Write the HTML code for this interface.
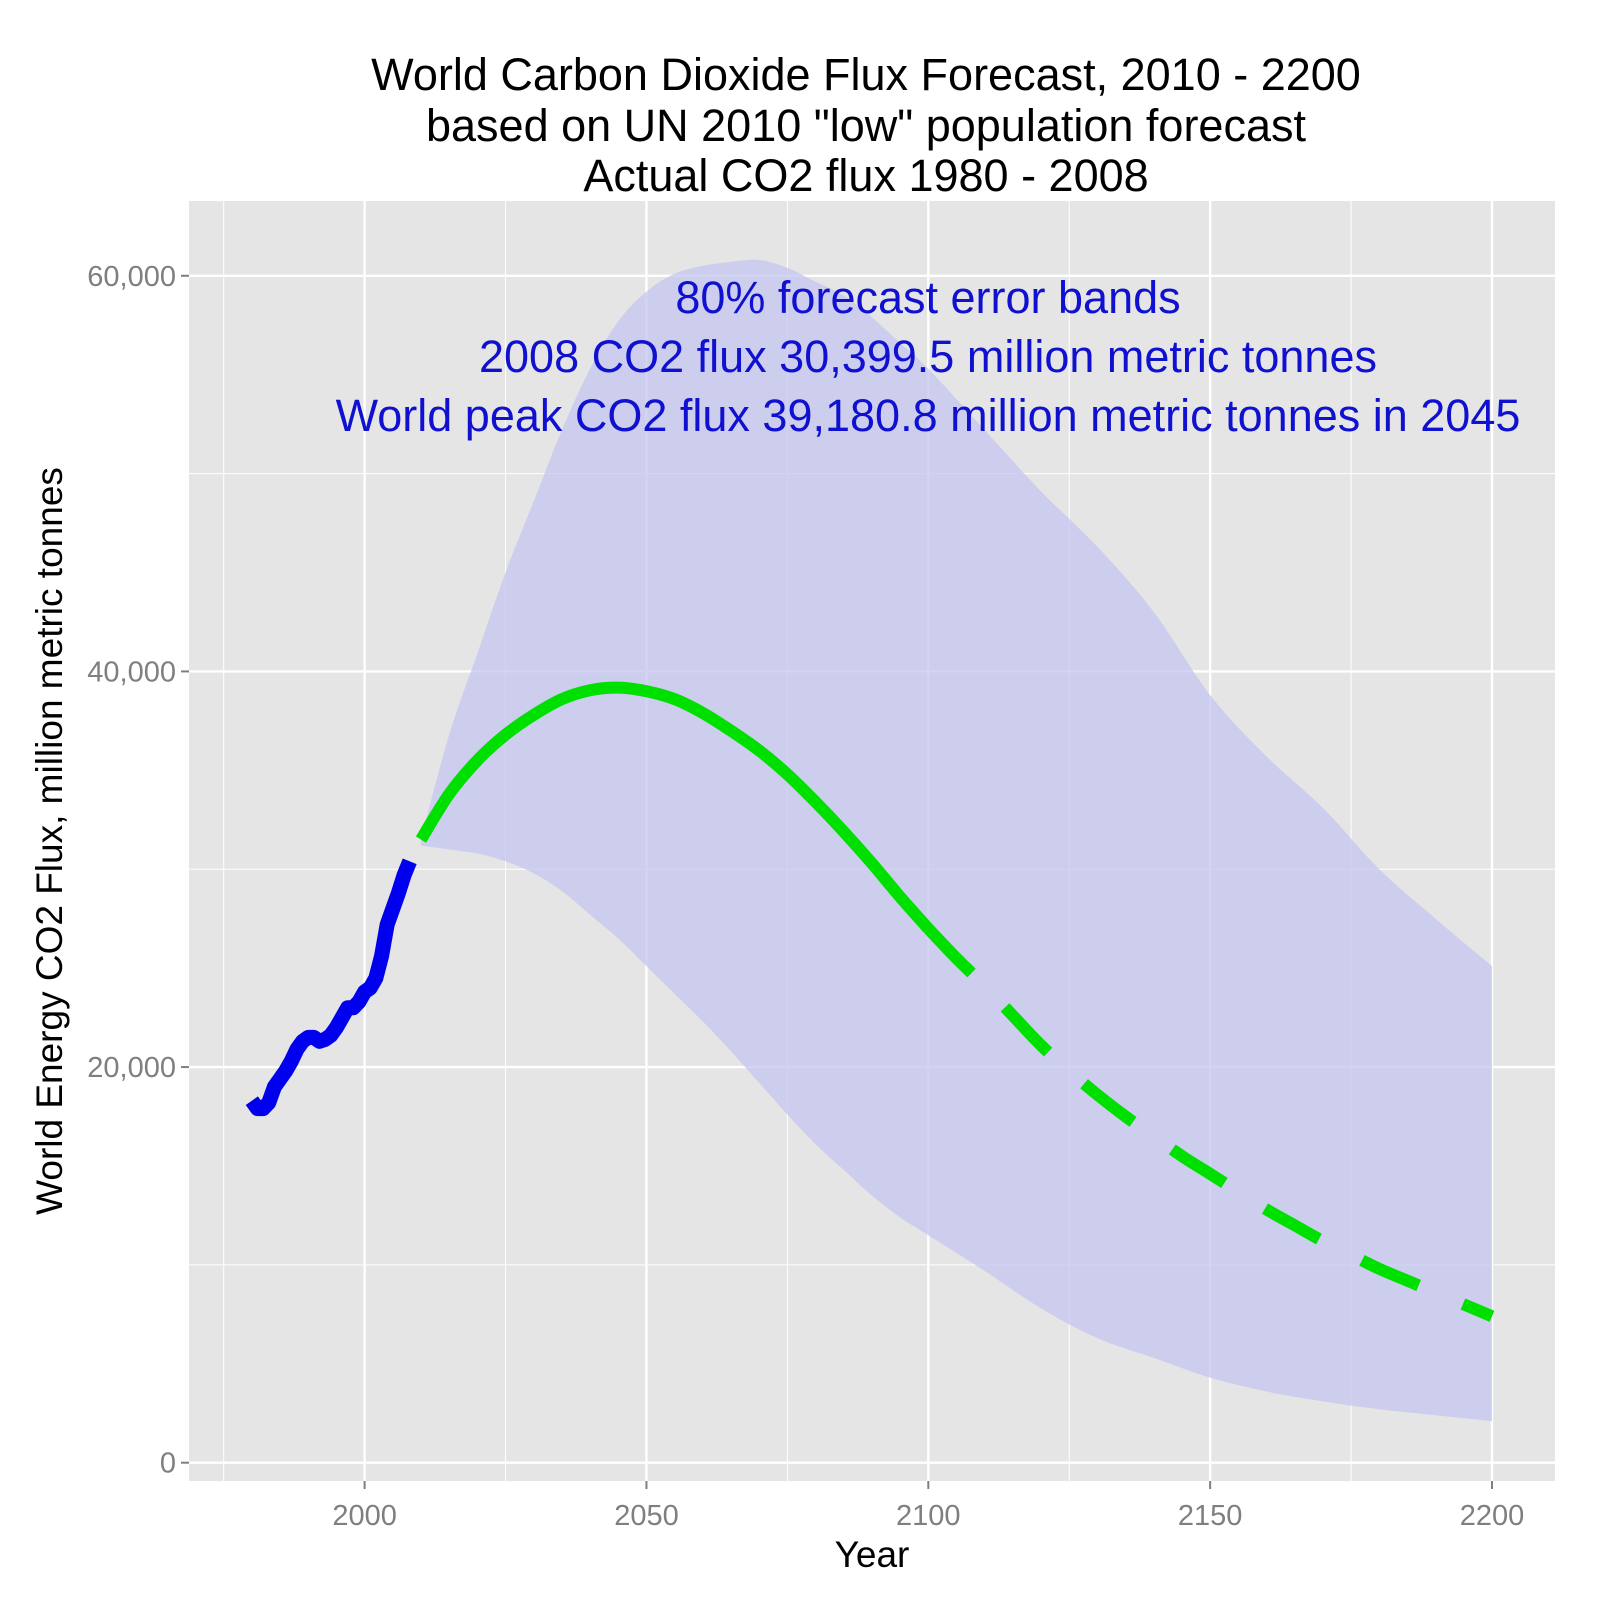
<!DOCTYPE html>
<html><head><meta charset="utf-8"><style>
html,body{margin:0;padding:0;background:#fff;}
svg{display:block;font-family:"Liberation Sans",Arial,sans-serif;}
</style></head><body>
<svg id="chart" width="1600" height="1600" viewBox="0 0 1600 1600">
<g font-size="45" text-anchor="middle" fill="#000">
<text x="866" y="90">World Carbon Dioxide Flux Forecast, 2010 - 2200</text>
<text x="866" y="141">based on UN 2010 "low" population forecast</text>
<text x="866" y="191">Actual CO2 flux 1980 - 2008</text>
</g>
<rect x="189" y="201" width="1366" height="1280" fill="#e5e5e5"/>
<g id="grid"></g>
<g id="marks"></g>
<g font-size="45" text-anchor="middle" fill="#1010d0">
<text x="928" y="313">80% forecast error bands</text>
<text x="928" y="372">2008 CO2 flux 30,399.5 million metric tonnes</text>
<text x="928" y="431">World peak CO2 flux 39,180.8 million metric tonnes in 2045</text>
</g>
<g id="axes"></g>
<text x="872" y="1567" font-size="37" text-anchor="middle">Year</text>
<text transform="translate(62,841) rotate(-90)" font-size="37" text-anchor="middle">World Energy CO2 Flux, million metric tonnes</text>
</svg>
<script>
const actualYears=[1980,1981,1982,1983,1984,1985,1986,1987,1988,1989,1990,1991,1992,1993,1994,1995,1996,1997,1998,1999,2000,2001,2002,2003,2004,2005,2006,2007,2008];
const actualValues=[18.3,17.9,17.9,18.2,19.0,19.4,19.8,20.3,20.9,21.3,21.5,21.5,21.3,21.4,21.6,22.0,22.5,23.0,23.0,23.3,23.8,24.0,24.5,25.6,27.2,28.0,28.8,29.7,30.4];
const forecastYears=[2010,2015,2020,2025,2030,2035,2040,2045,2050,2055,2060,2065,2070,2075,2080,2085,2090,2095,2100,2105,2110,2115,2120,2125,2130,2135,2140,2145,2150,2155,2160,2165,2170,2175,2180,2185,2190,2195,2200];
const forecastValues=[31.5,33.8,35.5,36.8,37.8,38.6,39.05,39.18,39.0,38.6,37.9,37.0,36.0,34.8,33.4,31.9,30.3,28.6,27.0,25.5,24.1,22.6,21.1,19.8,18.6,17.5,16.5,15.5,14.6,13.7,12.8,12.0,11.2,10.5,9.8,9.2,8.6,8.0,7.4];
const bandYears=[2010,2015,2020,2025,2030,2035,2040,2045,2050,2055,2060,2065,2070,2075,2080,2085,2090,2095,2100,2110,2120,2130,2140,2150,2160,2170,2180,2190,2200];
const bandUpper=[31.5,36.8,40.9,45.0,48.6,52.2,55.3,57.7,59.2,60.1,60.5,60.7,60.8,60.4,59.7,59.0,57.9,56.6,55.3,52.2,49.1,46.3,43.0,38.8,35.7,33.1,30.0,27.5,25.1];
const bandLower=[31.2,31.0,30.8,30.4,29.8,28.9,27.7,26.5,25.1,23.7,22.3,20.8,19.2,17.6,16.1,14.8,13.5,12.4,11.5,9.7,7.8,6.3,5.3,4.3,3.6,3.1,2.7,2.4,2.1];
const xTicks=[2000,2050,2100,2150,2200];
const yTicks=[0,20000,40000,60000];
const yTickLabels=["0","20,000","40,000","60,000"];
const NS="http://www.w3.org/2000/svg";
function X(y){return 364.6+(y-2000)*5.637;}
function Y(v){return 1462.7-v*0.019782;}
function YK(k){return Y(k*1000);}
function mk(tag,attrs,parent){const e=document.createElementNS(NS,tag);for(const k in attrs)e.setAttribute(k,attrs[k]);parent.appendChild(e);return e;}
function smooth(pts,move){
  let s=(move?'M':'L')+pts[0][0]+','+pts[0][1];
  for(let i=0;i<pts.length-1;i++){
    const p0=pts[Math.max(0,i-1)],p1=pts[i],p2=pts[i+1],p3=pts[Math.min(pts.length-1,i+2)];
    const c1=[p1[0]+(p2[0]-p0[0])/6,p1[1]+(p2[1]-p0[1])/6];
    const c2=[p2[0]-(p3[0]-p1[0])/6,p2[1]-(p3[1]-p1[1])/6];
    s+='C'+c1[0]+','+c1[1]+' '+c2[0]+','+c2[1]+' '+p2[0]+','+p2[1];
  }
  return s;
}
const grid=document.getElementById('grid'),marks=document.getElementById('marks'),axes=document.getElementById('axes');
for(let yr=1975;yr<=2200;yr+=25){
  const l=mk('line',{x1:X(yr),x2:X(yr),y1:201,y2:1481,stroke:'#fff','stroke-width':xTicks.includes(yr)?2.4:1},grid);
  
  
}
for(let v=0;v<=60000;v+=10000){
  const l=mk('line',{x1:189,x2:1555,y1:Y(v),y2:Y(v),stroke:'#fff','stroke-width':yTicks.includes(v)?2.4:1},grid);
  
  
}
const up=bandYears.map((y,i)=>[X(y),YK(bandUpper[i])]);
const lo=bandYears.map((y,i)=>[X(y),YK(bandLower[i])]).reverse();
const band=mk('path',{d:smooth(up,true)+smooth(lo,false)+'Z',fill:'#c4c4f0','fill-opacity':0.75},marks);


const act=mk('polyline',{points:actualYears.map((y,i)=>X(y)+','+YK(actualValues[i])).join(' '),fill:'none',stroke:'#0000ee','stroke-width':15,'stroke-linejoin':'round'},marks);


const solidIdx=forecastYears.indexOf(2100);
const fp=forecastYears.map((y,i)=>[X(y),YK(forecastValues[i])]);
const f1=mk('path',{d:smooth(fp.slice(0,solidIdx+1),true),fill:'none',stroke:'#00e000','stroke-width':12},marks);


const f2=mk('path',{d:smooth(fp.slice(solidIdx),true),fill:'none',stroke:'#00e000','stroke-width':12,'stroke-dasharray':'62 48'},marks);


xTicks.forEach(t=>{
  const tk=mk('line',{x1:X(t),x2:X(t),y1:1481,y2:1489,stroke:'#7f7f7f','stroke-width':2},axes);
  
  
  const tx=mk('text',{x:X(t),y:1525,'font-size':29,'text-anchor':'middle',fill:'#7f7f7f'},axes);
  tx.textContent=t;
  
  
});
yTicks.forEach((t,i)=>{
  const tk=mk('line',{x1:181,x2:189,y1:Y(t),y2:Y(t),stroke:'#7f7f7f','stroke-width':2},axes);
  
  
  const tx=mk('text',{x:176,y:Y(t)+10,'font-size':29,'text-anchor':'end',fill:'#7f7f7f'},axes);
  tx.textContent=yTickLabels[i];
  
  
});
</script>
</body></html>
